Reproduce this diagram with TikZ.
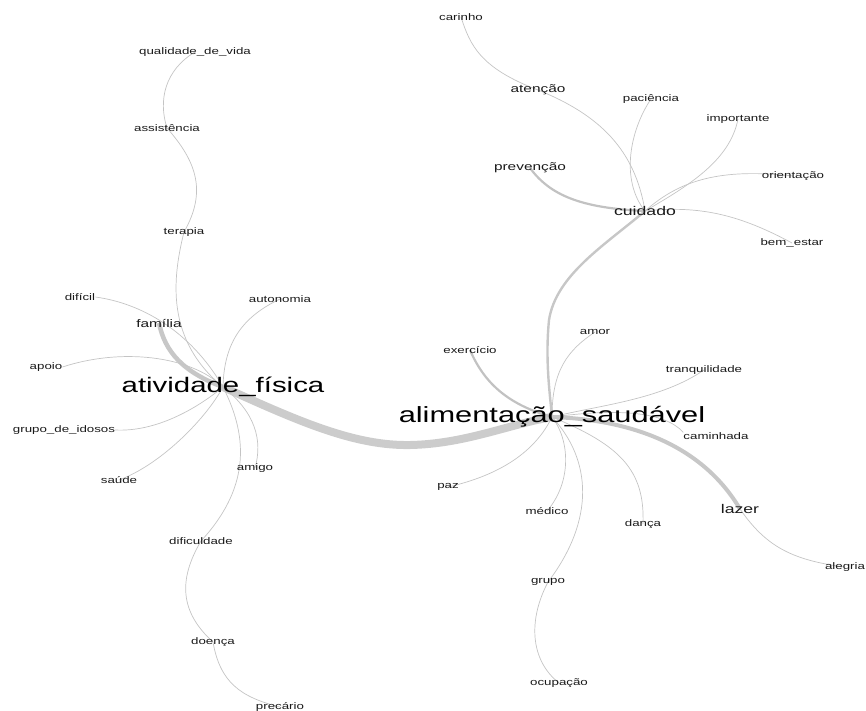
\documentclass[tikz,border=0pt]{standalone}
\usepackage{fontspec}
\setmainfont{Liberation Sans}[FakeStretch=1.4]
\usetikzlibrary{backgrounds}
\begin{document}
\begin{tikzpicture}[x=1pt,y=-1pt,
  sm/.style={font=\fontsize{9.5}{10}\selectfont, inner sep=0pt, text=black!90},
  md/.style={font=\fontsize{11}{12}\selectfont, inner sep=0pt, text=black!90},
  mdb/.style={font=\fontsize{12.6}{13}\selectfont, inner sep=0pt, text=black!90},
  big/.style={font=\fontsize{22}{24}\selectfont, inner sep=0pt, text=black},
  lnk/.style={draw=black!23, line width=0.7pt},
  lnkm/.style={draw=black!24, line width=2.2pt},
  lnkc/.style={draw=black!22, line width=2.4pt},
  lnkl/.style={draw=black!22, line width=4pt},
  lnkf/.style={draw=black!22, line width=4.5pt},
  lnkt/.style={draw=black!20, line width=8pt},
  ]
\useasboundingbox (0,0) rectangle (866,710);
% nodes
\node[sm] (car) at (461,17) {carinho};
\node[sm] (qdv) at (195,52) {qualidade\_de\_vida};
\node[md] (ate) at (538,90) {atenção};
\node[sm] (pac) at (651,99) {paciência};
\node[sm] (ass) at (167,128) {assistência};
\node[sm] (imp) at (738,119) {importante};
\node[md] (pre) at (530,168) {prevenção};
\node[sm] (ori) at (793,176) {orientação};
\node[mdb] (cui) at (645,211) {cuidado};
\node[sm] (bem) at (792,243) {bem\_estar};
\node[sm] (ter) at (184,232) {terapia};
\node[sm] (dif) at (80,297) {difícil};
\node[sm] (aut) at (280,299) {autonomia};
\node[md] (fam) at (159,323) {família};
\node[sm] (amo) at (595,332) {amor};
\node[sm] (exe) at (470,350) {exercício};
\node[sm] (apo) at (46,367) {apoio};
\node[sm] (tra) at (704,370) {tranquilidade};
\node[big,font=\fontsize{21}{23}\selectfont] (af) at (223,387) {atividade\_física};
\node[big] (as) at (552,417) {alimentação\_saudável};
\node[sm] (cam) at (716,436) {caminhada};
\node[sm] (gdi) at (64,430) {grupo\_de\_idosos};
\node[sm] (sau) at (119,480) {saúde};
\node[sm] (ami) at (255,468) {amigo};
\node[sm] (paz) at (448,487) {paz};
\node[sm] (med) at (547,511) {médico};
\node[mdb] (laz) at (740,509) {lazer};
\node[sm] (dan) at (643,524) {dança};
\node[sm] (dfc) at (201,541) {dificuldade};
\node[sm] (ale) at (845,567) {alegria};
\node[sm] (gru) at (548,582) {grupo};
\node[sm] (doe) at (213,642) {doença};
\node[sm] (ocu) at (559,683) {ocupação};
\node[sm] (prc) at (280,707) {precário};
% edges
\begin{pgfonlayer}{background}
\draw[lnkt] (af.center) .. controls (300,422) and (355,446) .. (410,445)
            .. controls (465,444) and (510,424) .. (as.center);
\draw[lnkf] (fam.center) .. controls (165,352) and (183,372) .. (af.center);
\draw[lnk] (ter.center) .. controls (172,280) and (166,340) .. (af.center);
\draw[lnk] (ass.center) .. controls (195,160) and (208,190) .. (ter.center);
\draw[lnk] (qdv.center) .. controls (165,70) and (158,100) .. (ass.center);
\draw[lnk] (dif.east) .. controls (140,303) and (190,330) .. (af.center);
\draw[lnk] (apo.east) .. controls (120,348) and (190,355) .. (af.center);
\draw[lnk] (gdi.east) .. controls (155,432) and (195,410) .. (af.center);
\draw[lnk] (sau.center) .. controls (160,465) and (205,420) .. (af.center);
\draw[lnk] (aut.center) .. controls (240,318) and (224,345) .. (af.center);
\draw[lnk] (af.center) .. controls (255,412) and (263,440) .. (ami.center);
\draw[lnk] (af.center) .. controls (250,440) and (248,490) .. (dfc.center);
\draw[lnk] (dfc.center) .. controls (178,580) and (180,612) .. (doe.center);
\draw[lnk] (doe.center) .. controls (220,682) and (240,697) .. (prc.center);
% right
\draw[lnkc] (cui.center) .. controls (605,245) and (556,275) .. (549,320)
            .. controls (545,360) and (550,395) .. (as.center);
\draw[lnkm] (exe.center) .. controls (485,385) and (510,405) .. (as.center);
\draw[lnk] (amo.center) .. controls (568,350) and (552,370) .. (as.center);
\draw[lnk] (tra.center) .. controls (660,400) and (600,405) .. (as.center);
\draw[lnk] (as.center) .. controls (620,408) and (665,412) .. (cam.north west);
\draw[lnkl] (as.center) .. controls (640,420) and (705,450) .. (laz.center);
\draw[lnk] (laz.center) .. controls (765,545) and (790,560) .. (ale.center);
\draw[lnk] (paz.center) .. controls (500,475) and (535,452) .. (as.center);
\draw[lnk] (med.center) .. controls (572,482) and (570,440) .. (as.center);
\draw[lnk] (as.center) .. controls (592,460) and (595,520) .. (gru.center);
\draw[lnk] (gru.center) .. controls (528,620) and (530,660) .. (ocu.center);
\draw[lnk] (as.center) .. controls (620,445) and (645,470) .. (dan.center);
% cuidado
\draw[lnkm] (pre.center) .. controls (550,195) and (580,208) .. (cui.center);
\draw[lnk] (ate.center) .. controls (600,115) and (635,150) .. (cui.center);
\draw[lnk] (car.center) .. controls (470,45) and (480,68) .. (ate.center);
\draw[lnk] (pac.center) .. controls (630,130) and (620,180) .. (cui.center);
\draw[lnk] (imp.center) .. controls (730,160) and (690,185) .. (cui.center);
\draw[lnk] (ori.center) .. controls (720,168) and (680,180) .. (cui.center);
\draw[lnk] (bem.center) .. controls (740,215) and (700,205) .. (cui.center);
\end{pgfonlayer}
\end{tikzpicture}
\end{document}
